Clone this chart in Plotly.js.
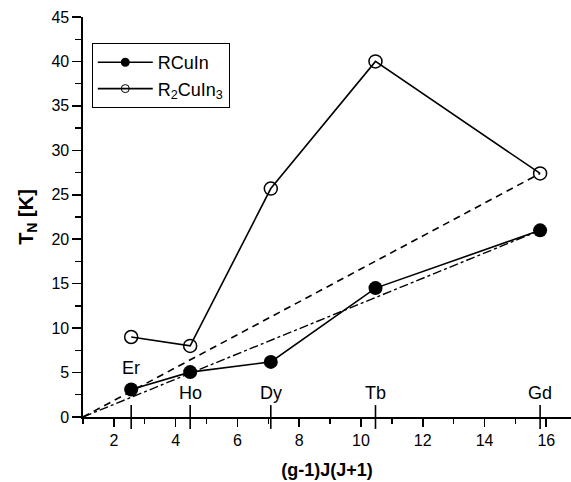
<!DOCTYPE html>
<html>
<head>
<meta charset="utf-8">
<script src="https://cdn.plot.ly/plotly-3.0.1.min.js"></script>
<style>html,body{margin:0;padding:0;background:#fff;}#chart{width:571px;height:482px;}</style>
</head>
<body>
<div id="chart"></div>
<script>
// Data
const elements = ["Er", "Ho", "Dy", "Tb", "Gd"];
const deGennes = [2.56, 4.47, 7.08, 10.47, 15.8];
const tnRCuIn = [3.1, 5.05, 6.2, 14.5, 21.0];
const tnR2CuIn3 = [9.0, 8.0, 25.7, 40.0, 27.4];
const labelY = [5.5, 2.7, 2.7, 2.7, 2.7];
const fitX = [1, 15.8];
const fitDashedY = [0, 27.4];
const fitDashDotY = [0, 21.0];
const seriesNames = ["RCuIn", "R<sub>2</sub>CuIn<sub>3</sub>"];

const black = "#000";
const font = "Liberation Sans, Arial, sans-serif";

const traces = [
  {
    x: fitX, y: fitDashedY, mode: "lines", showlegend: false, hoverinfo: "skip",
    line: {color: black, width: 1.6, dash: "7px,5px"}
  },
  {
    x: fitX, y: fitDashDotY, mode: "lines", showlegend: false, hoverinfo: "skip",
    line: {color: black, width: 1.4, dash: "dashdot"}
  },
  {
    x: deGennes, y: deGennes.map(() => 0), mode: "markers", showlegend: false, hoverinfo: "skip",
    cliponaxis: false,
    marker: {symbol: "line-ns", size: 17, line: {color: black, width: 1.6}}
  },
  {
    x: deGennes, y: tnRCuIn, mode: "lines+markers", name: seriesNames[0], showlegend: false,
    cliponaxis: false,
    line: {color: black, width: 1.6},
    marker: {symbol: "circle", size: 14, color: black}
  },
  {
    x: deGennes, y: tnR2CuIn3, mode: "lines+markers", name: seriesNames[1], showlegend: false,
    cliponaxis: false,
    line: {color: black, width: 1.6},
    marker: {symbol: "circle-open", size: 13, color: black, line: {color: black, width: 1.5}}
  },
  // legend entries (smaller symbols, as in the reference legend)
  {
    x: [null], y: [null], mode: "lines+markers", name: seriesNames[0],
    line: {color: black, width: 1.6},
    marker: {symbol: "circle", size: 9, color: black}
  },
  {
    x: [null], y: [null], mode: "lines+markers", name: seriesNames[1],
    line: {color: black, width: 1.6},
    marker: {symbol: "circle-open", size: 8, color: black, line: {color: black, width: 1}}
  }
];

const annotations = elements.map((el, i) => ({
  x: deGennes[i], y: labelY[i], xref: "x", yref: "y", text: el, showarrow: false,
  xanchor: "center", yanchor: "middle", font: {family: font, size: 18, color: black}
}));

const layout = {
  width: 571, height: 482,
  margin: {l: 83, r: 0, t: 17, b: 65},
  paper_bgcolor: "#fff", plot_bgcolor: "#fff",
  font: {family: font, color: black, size: 15},
  showlegend: true,
  legend: {
    x: 0.018, y: 0.935, xanchor: "left", yanchor: "top",
    bordercolor: black, borderwidth: 1, bgcolor: "#fff",
    font: {family: font, size: 18, color: black},
    itemwidth: 55, tracegroupgap: 0
  },
  xaxis: {
    range: [1, 16.8], tick0: 0, dtick: 2, showgrid: false, zeroline: false,
    showline: true, linecolor: black, linewidth: 1.6,
    ticks: "outside", ticklen: 8, tickwidth: 1.6, tickcolor: black,
    tickfont: {family: font, size: 16, color: black},
    minor: {dtick: 1, ticks: "outside", ticklen: 5, tickwidth: 1.4, tickcolor: black, showgrid: false},
    title: {text: "(g-1)J(J+1)", font: {family: font, size: 18, color: black, weight: "bold"}, standoff: 15},
    automargin: false
  },
  yaxis: {
    range: [0, 45], tick0: 0, dtick: 5, showgrid: false, zeroline: false,
    showline: true, linecolor: black, linewidth: 1.6,
    ticks: "outside", ticklen: 9, tickwidth: 1.6, tickcolor: black,
    tickfont: {family: font, size: 16, color: black},
    minor: {dtick: 2.5, ticks: "outside", ticklen: 6, tickwidth: 1.4, tickcolor: black, showgrid: false},
    title: {text: "T<sub>N</sub> [K]", font: {family: font, size: 20, color: black, weight: "bold"}, standoff: 12},
    automargin: false
  },
  annotations: annotations
};

Plotly.newPlot("chart", traces, layout, {displayModeBar: false, staticPlot: true});
</script>
</body>
</html>
